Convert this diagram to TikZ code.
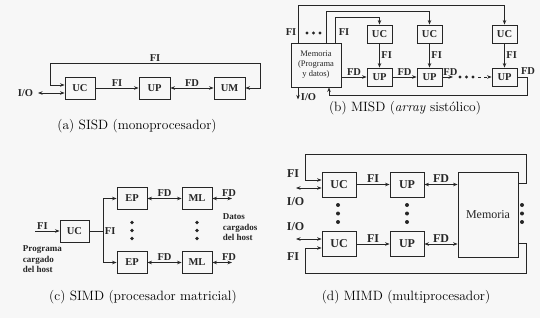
\documentclass[tikz,border=0pt]{standalone}
\usepackage{fontspec}
\newfontfamily\tms{Liberation Serif}
\usetikzlibrary{arrows.meta}
\newcommand\blkfont{\tms\bfseries\fontsize{10.5}{11.5}\selectfont}
\newcommand\bigfont{\tms\bfseries\fontsize{12}{13}\selectfont}
\begin{document}
\begin{tikzpicture}[x=1pt,y=-1pt,line width=0.85pt,color=black!85,
	>={Stealth[length=4.5pt,width=3.5pt]},
	blk/.style={draw,minimum width=30pt,minimum height=22pt,inner sep=0pt,font=\blkfont},
	blkd/.style={draw,minimum width=34pt,minimum height=25pt,inner sep=0pt,font=\bigfont},
	lab/.style={font=\blkfont,inner sep=1.5pt},
	labd/.style={font=\bigfont,inner sep=1.5pt},
	subcap/.style={font=\fontsize{13.5}{15}\selectfont,text=black}]
	\useasboundingbox[fill=black!3] (0,0) rectangle (540,318);

	% (a) SISD
	\node[blk] (ucA) at (80,88) {UC};
	\node[blk,minimum width=31pt] (upA) at (154.5,88) {UP};
	\node[blk,minimum width=31pt] (umA) at (229.5,88) {UM};
	\coordinate (ioA) at (38,93);
	\draw[->] (ucA) -- node[lab,above]{FI} (upA);
	\draw[<->] (upA) -- node[lab,above]{FD} (umA);
	\draw[<->] ([yshift=3pt]ucA.west) -| (50,63) -- node[lab,above]{FI} (260,63) |- (umA.east);
	\draw[<->] (ioA) -- ([yshift=-5pt]ucA.west);
	\node[lab] (ioAl) at (25.5,93) {I/O};
	\node[subcap] (capA) at (137,126) {(a) SISD (monoprocesador)};

	% (b) MISD
	\node[blk,minimum width=50pt,minimum height=44pt,align=center,font=\tms\fontsize{8.5}{10}\selectfont] (mem) at (316,65) {Memoria\\(Programa\\y datos)};
	\foreach \x/\n in {379.5/1,429.5/2,504.5/3}{
		\node[blk,minimum width=25pt,minimum height=18pt] (ucB\n) at (\x,34) {UC};
		\node[blk,minimum width=25pt,minimum height=18pt] (upB\n) at (\x,77) {UP};
		\draw[->] (ucB\n) -- node[lab,right]{FI} (upB\n);
	}
	\draw[->] ([xshift=-18pt]mem.north) -- ++(0,-37) -| (ucB3);
	\draw[->] ([xshift=10pt]mem.north) -- ++(0,-31) -| (ucB2);
	\draw[->] ([xshift=19pt]mem.north) -- ++(0,-25) -| (ucB1);
	\node[lab] (fiB1) at (291,32) {FI};
	\node[lab] (fiB2) at (344,32) {FI};
	\foreach \x in {307,313.5,320} \fill (\x,33) circle (1.7pt);
	\coordinate (gap1) at (453,77);
	\coordinate (gap2) at (478,77);
	\draw[->] (mem.east |- upB1) -- node[lab,above]{FD} (upB1);
	\draw[->] (upB1) -- node[lab,above]{FD} (upB2);
	\draw[->] (upB2) -- node[lab,above,pos=0.75]{FD} (gap1);
	\foreach \x in {460,466.5,473} \fill (\x,77) circle (1.7pt);
	\draw[->,dashed] (gap2) -- (upB3);
	\draw[->] (upB3.east) -| ++(10,18) -| ([xshift=13pt]mem.south);
	\node[lab] (fdB) at (528,71) {FD};
	\draw[->] ([xshift=-18pt]mem.south) -- ++(0,12);
	\node[lab,anchor=west] (ioB) at (299,97) {I/O};
	\node[subcap] (capB) at (405,108) {(b) MISD (\textit{array} sistólico)};

	% (c) SIMD
	\node[blk,minimum width=29pt] (ucC) at (74.5,231) {UC};
	\node[blk,minimum height=21.5pt] (ep1) at (132,198.5) {EP};
	\node[blk,minimum height=21.5pt] (ml1) at (197,198.5) {ML};
	\node[blk,minimum height=21.5pt] (ep2) at (132,262.5) {EP};
	\node[blk,minimum height=21.5pt] (ml2) at (197,262.5) {ML};
	\coordinate (fiC) at (35,231);
	\coordinate (jC) at (103,231);
	\coordinate (o1) at (232,198.5);
	\coordinate (o2) at (232,262.5);
	\draw[->] (fiC) -- node[lab,above,pos=0.3]{FI} (ucC);
	\draw (ucC) -- (jC) node[lab,right]{FI};
	\draw[->] (jC) |- (ep1);
	\draw[->] (jC) |- (ep2);
	\draw[<->] (ep1) -- node[lab,above]{FD} (ml1);
	\draw[<->] (ep2) -- node[lab,above]{FD} (ml2);
	\draw[<->] (ml1) -- (o1) node[lab,above,xshift=-3pt]{FD};
	\draw[<->] (ml2) -- (o2) node[lab,above,xshift=-3pt]{FD};
	\foreach \x in {132,197} \foreach \y in {222.5,230.5,238.5} \fill (\x,\y) circle (1.9pt);
	\node[lab,anchor=west,align=left,font=\tms\bfseries\fontsize{9}{10.5}\selectfont] (prog) at (21,259.5) {Programa\\cargado\\del host};
	\node[lab,anchor=west,align=left,font=\tms\bfseries\fontsize{9}{10.5}\selectfont] (datos) at (221,227.5) {Datos\\cargados\\del host};
	\node[subcap] (capC) at (143,297) {(c) SIMD (procesador matricial)};

	% (d) MIMD
	\node[blkd] (ucD1) at (339,184.5) {UC};
	\node[blkd] (upD1) at (407,184.5) {UP};
	\node[blkd] (ucD2) at (339,244) {UC};
	\node[blkd] (upD2) at (407,244) {UP};
	\node[blkd,minimum width=60pt,minimum height=85pt,font=\tms\fontsize{12}{13}\selectfont] (memD) at (488,214.5) {Memoria};
	\coordinate (ioD1) at (296,188);
	\coordinate (ioD2) at (296,239);
	\draw[->] (ucD1) -- node[labd,above]{FI} (upD1);
	\draw[<->] (upD1) -- node[labd,above]{FD} (upD1 -| memD.west);
	\draw[->] (ucD2) -- node[labd,above]{FI} (upD2);
	\draw[<->] (upD2) -- node[labd,above]{FD} (upD2 -| memD.west);
	\draw[->] ([yshift=31.5pt]memD.east) -- ++(8,0) |- (305,154) |- ([yshift=4.5pt]ucD1.west);
	\draw[->] ([yshift=-28.5pt]memD.east) -- ++(8,0) |- (305,273) |- ([yshift=-4pt]ucD2.west);
	\draw[<->] (ioD1) -- ([yshift=-3.5pt]ucD1.west);
	\draw[<->] (ioD2) -- ([yshift=5pt]ucD2.west);
	\node[labd] (fiD1) at (293,174) {FI};
	\node[labd] (ioD1l) at (295.5,202) {I/O};
	\node[labd] (ioD2l) at (295.5,227) {I/O};
	\node[labd] (fiD2) at (293,257) {FI};
	\foreach \x in {338,407,522} \foreach \y in {205,213.5,222} \fill (\x,\y) circle (2pt);
	\node[subcap] (capD) at (406,297) {(d) MIMD (multiprocesador)};
\end{tikzpicture}
\end{document}
